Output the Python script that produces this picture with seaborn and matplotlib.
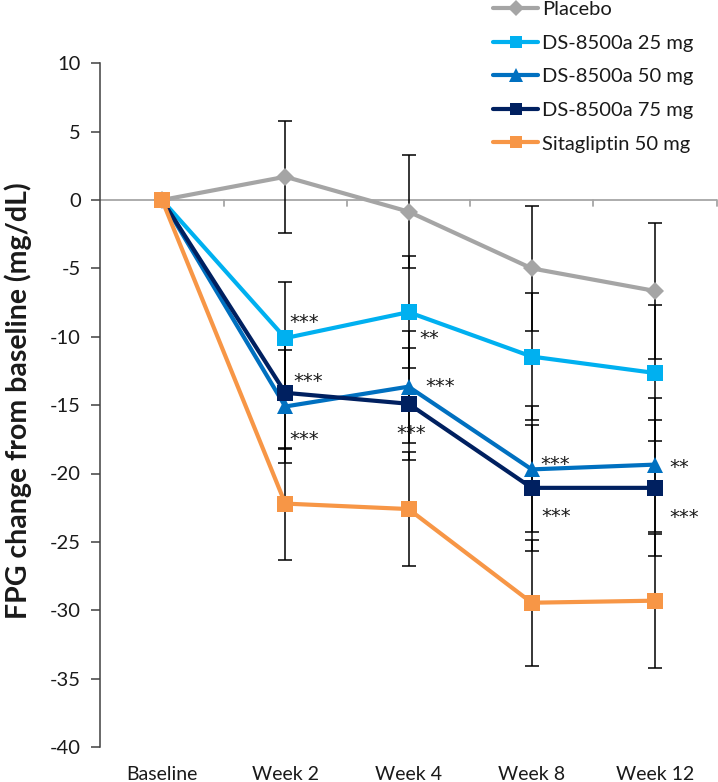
import numpy as np
import pandas as pd
import matplotlib
matplotlib.use("Agg")
import matplotlib.pyplot as plt
from matplotlib.lines import Line2D
import seaborn as sns

# ---- data ----
timepoints = ["Baseline", "Week 2", "Week 4", "Week 8", "Week 12"]
groups = ["Placebo", "DS-8500a 25 mg", "DS-8500a 50 mg", "DS-8500a 75 mg", "Sitagliptin 50 mg"]
placebo = [0, 1.7, -0.85, -5.0, -6.65]
ds25 = [0, -10.1, -8.2, -11.45, -12.65]
ds50 = [0, -15.1, -13.65, -19.7, -19.35]
ds75 = [0, -14.1, -14.9, -21.05, -21.05]
sita = [0, -22.2, -22.6, -29.45, -29.3]
err_placebo = [0, 4.1, 4.15, 4.55, 4.95]
err_ds25 = [0, 4.1, 4.1, 4.65, 4.95]
err_ds50 = [0, 4.15, 4.1, 4.6, 4.9]
err_ds75 = [0, 4.1, 4.1, 4.6, 4.95]
err_sita = [0, 4.1, 4.15, 4.6, 4.9]
y_ticks = [10, 5, 0, -5, -10, -15, -20, -25, -30, -35, -40]
# significance marks: (label, x position in category units, y value)
sig_text = ["***", "***", "***", "**", "***", "***", "***", "***", "**", "***"]
sig_x = [1.15, 1.19, 1.15, 2.17, 2.26, 2.02, 3.19, 3.20, 4.20, 4.24]
sig_y = [-8.5, -12.8, -17.1, -9.7, -13.2, -16.6, -18.9, -22.7, -19.1, -22.8]

values = [placebo, ds25, ds50, ds75, sita]
errors = [err_placebo, err_ds25, err_ds50, err_ds75, err_sita]
colors = ["#A5A5A5", "#00B0F0", "#0070C0", "#002060", "#F79646"]
markers = ["D", "s", "^", "s", "s"]
msizes = [9.0, 11.0, 11.5, 11.0, 11.0]

rows = []
for g, vals in zip(groups, values):
    for i, (t, v) in enumerate(zip(timepoints, vals)):
        rows.append({"group": g, "time": t, "pos": i, "value": v})
df = pd.DataFrame(rows)

sns.set_theme(style="white")
plt.rcParams["font.family"] = ["Lato", "DejaVu Sans"]
text_color = "#1a1a1a"

fig = plt.figure(figsize=(7.18, 7.82), dpi=100)
W, H = 718, 782
ax_left, ax_right = 100.4, 716.6
ax_top, ax_bot = 63.25, 747.0
ax = fig.add_axes([ax_left / W, (H - ax_bot) / H, (ax_right - ax_left) / W, (ax_bot - ax_top) / H])

# zero line with category boundary ticks
ax.axhline(0, color="#A6A6A6", lw=1.3, zorder=1)
for b in [0.5, 1.5, 2.5, 3.5, 4.5]:
    ax.plot([b, b], [0, -0.45], color="#A6A6A6", lw=1.3, zorder=1, clip_on=False)

# error bars
xpos = np.arange(len(timepoints))
for vals, errs in zip(values, errors):
    ax.errorbar(xpos[1:], vals[1:], yerr=errs[1:], fmt="none", ecolor="black",
                elinewidth=1.1, capsize=4.8, capthick=1.1, zorder=2)

# lines
for g, c, m, ms in zip(groups, colors, markers, msizes):
    sub = df[df["group"] == g]
    sns.lineplot(data=sub, x="pos", y="value", color=c, lw=3.0, marker=m,
                 markersize=ms, markeredgewidth=0, markeredgecolor=c,
                 ax=ax, legend=False, zorder=3, estimator=None, sort=False)

for s, x, y in zip(sig_text, sig_x, sig_y):
    ax.annotate(s, xy=(x, y), xytext=(0, -8.3), textcoords="offset points",
                ha="center", va="baseline", fontsize=14, color=text_color,
                family="DejaVu Sans")

ax.set_xlim(-0.5, 4.5)
ax.set_ylim(-40, 10)
ax.set_yticks(y_ticks)
ax.set_yticklabels([str(t) for t in y_ticks])
ax.set_xticks(xpos)
ax.set_xticklabels(timepoints)
ax.set_xlabel("")
ax.set_ylabel("")
for sp in ["top", "right", "bottom"]:
    ax.spines[sp].set_visible(False)
ax.spines["left"].set_color("#404040")
ax.spines["left"].set_linewidth(1.1)
ax.tick_params(axis="y", which="major", direction="out", length=6.5, width=1.1,
               color="#404040", labelsize=14.5, labelcolor=text_color, pad=7.5, left=True)
ax.tick_params(axis="x", which="major", length=0, labelsize=14, labelcolor=text_color, pad=14)
ax.grid(False)

fig.text(18 / W, 1 - 401 / H, "FPG change from baseline (mg/dL)", rotation=90,
         ha="center", va="center", fontsize=20.5, fontweight="bold", color=text_color)

handles = [Line2D([0], [0], color=c, lw=3.0, marker=m, markersize=ms * 0.85,
                  markeredgewidth=0) for c, m, ms in zip(colors, markers, msizes)]
leg = fig.legend(handles, groups, loc="upper left", bbox_to_anchor=(493 / W, 1.0 - 1 / H),
                 frameon=False, fontsize=14.5, handlelength=2.25, handletextpad=0.2,
                 labelspacing=0.82, borderpad=0, borderaxespad=0)
for t in leg.get_texts():
    t.set_color(text_color)

fig.savefig("out.png", dpi=100)
